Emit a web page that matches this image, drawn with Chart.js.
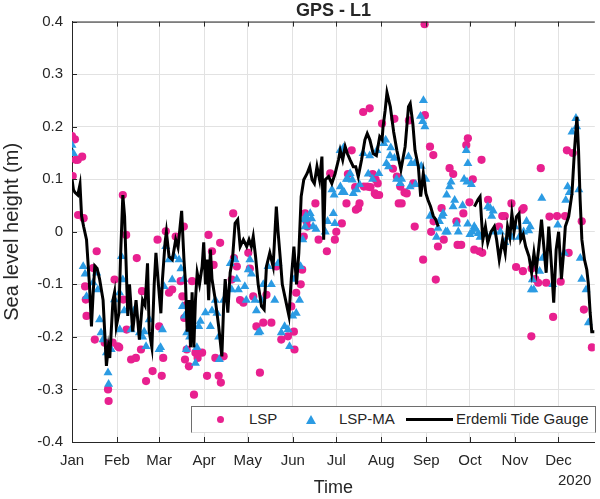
<!DOCTYPE html>
<html>
<head>
<meta charset="utf-8">
<title>GPS - L1</title>
<script src="https://cdn.jsdelivr.net/npm/chart.js@4.4.1/dist/chart.umd.min.js"></script>
<style>
  html, body { margin: 0; padding: 0; background: #fff; }
  #wrap { position: relative; width: 600px; height: 499px; overflow: hidden;
          font-family: 'Liberation Sans', Arial, sans-serif; color: #262626; }
  #wrap canvas { position: absolute; left: 0; top: 0; }
  .legend { position: absolute; left: 191px; top: 406px; width: 405px; height: 27px;
            box-sizing: border-box; background: #fff; border: 1px solid #6e6e6e;
            border-bottom-color: #dedede; font-size: 15px; }
  .legend .txt { position: absolute; top: 3px; line-height: 18px; white-space: nowrap; }
  .legend .dot { position: absolute; left: 25px; top: 9px; width: 7px; height: 7px;
                 border-radius: 50%; background: #e8208f; }
  .legend svg { position: absolute; left: 114px; top: 8px; }
  .legend .ln { position: absolute; left: 214px; top: 11px; width: 47px; height: 3px; background: #000; }
  .year { position: absolute; left: 558px; top: 471px; font-size: 15px; }
</style>
</head>
<body>
<div id="wrap">
  <canvas id="chart" width="600" height="499"></canvas>
  <div class="legend">
    <span class="dot"></span><span class="txt" style="left:57px">LSP</span>
    <svg width="10" height="9"><polygon points="5,0 10,9 0,9" fill="#2b9be3"/></svg>
    <span class="txt" style="left:147px">LSP-MA</span>
    <span class="ln"></span><span class="txt" style="left:264px">Erdemli Tide Gauge</span>
  </div>
  <div class="year">2020</div>
</div>
<script>
'use strict';

// ── Axis ticks ────────────────────────────────────────────
const MONTHS      = ['Jan','Feb','Mar','Apr','May','Jun','Jul','Aug','Sep','Oct','Nov','Dec'];
const MONTH_START = [0, 31, 60, 91, 121, 152, 182, 213, 244, 274, 305, 335];   // day of year 2020
const Y_TICKS     = [-0.4, -0.3, -0.2, -0.1, 0, 0.1, 0.2, 0.3, 0.4];

// ── Erdemli tide gauge (day of year, metres); null = no record ──
const tideDay = [
  0, 1, 2, 4, 5.5, 6.6, 8, 10, 12, 13.4,
  14.5, 15.7, 17.3, 19, 21.4, 23.7, 25, 26, 27, 28.2,
  29.3, 30.5, 32.3, 33.4, 35, 36.2, 37.3, 38.4, 39.6, 41.8,
  44.1, 46.4, 48.6, 50.3, 52, 53.2, 55, 56.6, 57.8, 59.5,
  61.2, 62.3, 64.1, 65, 66.8, 69.1, 71.4, 73, 75.5, 77.1,
  78.2, 79.3, 80.5, 81.6, 82.7, 83.9, 85, 86.2, 87.8, 89.6,
  90.7, 91.9, 93, 94.1, 95.3, 96.4, 98.7, 101, 103.2, 104.4,
  105.5, 107.3, 108.9, 110.5, 112.3, 114.1, 115.8, 118, 120.3, 121.9,
  123.5, 124.8, 126.4, 128.2, 130.5, 132.3, 133.9, 136.2, 138.5, 140.7,
  141.9, 143.7, 144.8, 147.1, 149.4, 151, 152.8, 154.6, 156.2, 157.8,
  159.6, 161.9, 163.7, 165.3, 166.9, 168.7, 170.5, 172.1, 173.3, 174.4,
  176.7, 178.9, 181.2, 183.5, 184.7, 186.4, 188.1, 189.6, 191.5, 193.7,
  195.4, 197.1, 199.4, 201.7, 203.3, 205.1, 207.4, 209.6, 211.9, 213.5,
  214.2, 215.6, 216.9, 219.2, 221.5, 223.7, 226.5, 229.4, 231.7, 232.9,
  234.7, 236.2, 238.5, 240.1, 241.9, 243.7, 245.2, 246.9, 248.8, 250.5,
  252.2, 253, 277.1, 279.5, 281, 282.9, 284.7, 286.3, 288.5, 290.8,
  292.4, 294.2, 296.5, 298.3, 299.9, 301.5, 302.9, 304.4, 306.1, 307.8,
  309, 310.7, 312.4, 314.7, 316.5, 318.1, 319.7, 321.5, 323.3, 324.9,
  326.5, 328.3, 330.2, 331.7, 333.4, 335.1, 337, 338.5, 339.7, 342,
  344.3, 346, 347.7, 348.8, 349.9, 351.1, 352.9, 354.5, 355.6, 356.8,
  357.9, 359.7
];
const tideLevel = [
  0.10, 0.08, 0.075, 0.07, 0.09, 0.03, 0.01, -0.015, -0.10, -0.18,
  -0.12, -0.065, -0.07, -0.09, -0.13, -0.255, -0.22, -0.24, -0.19, -0.13,
  -0.115, -0.18, -0.155, -0.05, 0.07, 0.03, -0.065, -0.16, -0.10, -0.19,
  -0.13, -0.205, -0.13, -0.14, -0.06, -0.19, -0.22, -0.10, -0.04, -0.10,
  -0.155, -0.09, -0.02, 0.0, -0.047, -0.053, -0.015, -0.03, 0.04, -0.053,
  -0.10, -0.19, -0.13, -0.22, -0.115, -0.22, -0.13, -0.078, -0.10, -0.066,
  -0.02, -0.10, -0.053, -0.13, -0.034, -0.09, -0.13, -0.18, -0.237, -0.142,
  -0.09, -0.154, -0.078, -0.053, 0.016, 0.023, -0.028, -0.015, -0.028, -0.015,
  -0.028, -0.009, -0.047, -0.10, -0.142, -0.148, -0.066, -0.04, -0.066, 0.048,
  0.0, -0.06, -0.10, -0.13, -0.16, -0.09, -0.028, -0.10, -0.04, 0.067,
  0.099, 0.111, 0.124, 0.099, 0.092, 0.124, 0.099, 0.143, -0.015, 0.099,
  0.105, 0.092, 0.111, 0.137, 0.155, 0.137, 0.162, 0.149, 0.137, 0.124,
  0.124, 0.105, 0.137, 0.175, 0.187, 0.175, 0.149, 0.145, 0.181, 0.175,
  0.2, 0.23, 0.265, 0.238, 0.19, 0.155, 0.118, 0.162, 0.238, 0.244,
  0.206, 0.155, 0.124, 0.067, 0.111, 0.073, 0.06, 0.048, 0.03, 0.023,
  0.01, null, 0.048, 0.061, 0.067, -0.015, 0.01, -0.021, 0.0, 0.01,
  -0.015, -0.053, -0.015, -0.04, 0.01, -0.01, 0.035, 0.0, 0.029, 0.035,
  -0.015, -0.005, -0.028, -0.047, -0.078, -0.04, -0.072, -0.028, 0.023, -0.028,
  -0.078, 0.01, -0.066, -0.135, -0.034, 0.0, -0.09, -0.04, 0.01, 0.029,
  0.073, 0.155, 0.219, 0.155, 0.061, -0.015, -0.053, -0.072, -0.10, -0.154,
  -0.19, -0.19
];

// ── LSP retrievals ────────────────────────────────────────
const lspDay = [
  0, 0.5, 2, 2.5, 4, 4.2, 7, 8, 9, 9.5,
  10, 14.5, 15.7, 17, 22.5, 24.8, 25.2, 28, 29.3, 31.6,
  32.5, 35, 35.3, 37.3, 37.6, 40.7, 44, 44.6, 47.5, 48.2,
  51, 55.5, 58.9, 60, 61.8, 62.8, 64.6, 66.8, 69, 71.4,
  74.8, 76, 77, 77.3, 77.8, 78.5, 79, 80.5, 82.7, 84,
  85, 86.5, 89.6, 93, 94, 96.4, 97.5, 98.7, 101, 102,
  102.5, 104.4, 110, 111, 111.5, 113.5, 115.7, 118, 121.4, 122.5,
  124.8, 127, 129.4, 131.7, 133.9, 137.3, 140.7, 144.1, 148.7, 151,
  152.8, 153.2, 154.4, 157.5, 158.5, 159.6, 160.5, 161.5, 162, 167.6,
  169.8, 175.5, 177.8, 181, 182, 185.8, 189, 190, 192.6, 195,
  195.5, 197, 198, 200.5, 201, 203.4, 205, 205.5, 207, 208.5,
  209, 209.5, 210.5, 211.5, 213.5, 221, 222, 223.7, 225, 226,
  227, 229, 230.5, 232, 235, 236, 241.8, 242.8, 243, 246.5,
  247.3, 248.8, 249, 250.5, 252, 254.5, 256, 260, 262.5, 264.7,
  265.5, 268, 269.5, 271.5, 272.6, 273.7, 276, 277, 280.5, 282,
  282.5, 286.5, 294, 296.3, 298, 302.6, 305.8, 310, 310.5, 311,
  316.3, 316.5, 319, 321, 322.8, 326.5, 328.8, 331.3, 334, 336.5,
  339.5, 340.8, 342, 344.8, 351, 352.5, 358
];
const lspLevel = [
  0.182, 0.106, 0.176, 0.137, 0.137, 0.032, 0.143, 0.026, -0.104, -0.129,
  -0.16, -0.069, -0.205, -0.037, -0.211, -0.30, -0.322, -0.211, -0.091, -0.218,
  -0.22, 0.07, -0.129, -0.006, -0.186, -0.243, -0.24, -0.05, -0.224, -0.113,
  -0.284, -0.265, -0.015, -0.18, -0.274, -0.24, 0.001, -0.116, -0.11, -0.009,
  -0.094, -0.123, 0.01, -0.164, -0.243, -0.14, -0.224, -0.256, -0.094, -0.31,
  -0.23, -0.24, -0.23, -0.274, -0.006, -0.037, -0.063, -0.24, -0.274, -0.021,
  -0.287, -0.237, -0.091, 0.035, -0.05, -0.066, -0.13, -0.135, -0.04, -0.07,
  -0.123, -0.18, -0.268, -0.173, -0.12, -0.173, -0.066, -0.205, -0.199, -0.142,
  -0.19, -0.224, -0.116, -0.10, -0.072, -0.009, 0.035, 0.02, 0.01, 0.054,
  -0.015, -0.037, 0.111, -0.015, 0.0, 0.016, 0.054, 0.11, 0.155, 0.085,
  0.042, 0.045, 0.054, 0.228, 0.086, 0.086, 0.235, 0.085, 0.11, 0.073,
  0.1, 0.07, 0.092, 0.07, 0.206, 0.12, 0.215, 0.105, 0.054, 0.086,
  0.054, 0.075, 0.073, 0.212, 0.092, 0.01, -0.053, 0.395, 0.222, 0.162,
  0.0, 0.146, 0.02, -0.091, -0.028, 0.045, -0.015, 0.121, 0.11, 0.02,
  -0.025, -0.025, 0.035, 0.165, 0.178, 0.056, 0.1, -0.034, -0.037, 0.137,
  -0.04, 0.061, 0.01, 0.03, 0.03, 0.054, -0.067, 0.042, -0.075, 0.045,
  -0.199, -0.07, -0.09, -0.097, 0.121, -0.097, 0.029, -0.162, 0.03, -0.095,
  0.03, 0.155, -0.04, 0.15, 0.02, -0.148, -0.22
];

// ── LSP moving average ────────────────────────────────────
const maDay = [
  0, 1, 7.7, 9, 10, 14.5, 17, 17.8, 19, 20,
  21.4, 23.7, 24.8, 25.2, 27, 29.3, 32.7, 32.9, 34, 35,
  36, 40.7, 42.6, 46.4, 48.6, 49.7, 51, 53.2, 60, 61,
  62.3, 63.4, 64.6, 66.8, 69, 70.3, 73.7, 75, 76, 77,
  77.5, 78.7, 79, 81, 85, 86, 87.3, 88.4, 91.9, 95.3,
  96.4, 98.7, 99.8, 101, 101.5, 104.4, 109, 110, 112.3, 113.5,
  114.6, 119, 120, 121.4, 122.5, 123.6, 126, 127, 128.2, 129.4,
  130.5, 131.7, 135, 137.3, 139.6, 141.9, 144.1, 146.4, 148.7, 149.8,
  152, 153, 154.4, 156.7, 157.4, 158.9, 160, 160.5, 161, 162,
  164, 165, 166, 168, 174.4, 176, 179, 180, 180.5, 181,
  184.6, 184.8, 186, 187, 187.5, 189, 190, 191.5, 193, 193.7,
  196, 198, 200.5, 204, 205, 207, 210, 211.3, 214.7, 216,
  216.5, 218, 219, 219.5, 222, 223.5, 226, 227, 231.7, 232.8,
  233.5, 236, 236.5, 240, 240.5, 241.5, 242, 243, 243.6, 246.5,
  251, 252, 253, 254.8, 255.6, 257.3, 258, 258.5, 260, 261,
  262.4, 263.5, 265, 266, 269, 270, 271.5, 272, 272.5, 272.6,
  274, 275, 275.5, 277, 278, 279.8, 281, 285, 286.3, 288,
  289, 290, 291, 295, 298, 302.8, 305, 308, 311, 313,
  314.5, 315.5, 316.3, 317, 318, 322, 323.5, 324, 331, 334.5,
  339, 340, 341.3, 342.5, 344.3, 347, 347.5, 349, 350, 351,
  354, 355.6
];
const maLevel = [
  0.165, 0.149, -0.066, -0.08, -0.123, -0.097, -0.078, -0.11, -0.167, -0.192,
  -0.205, -0.23, -0.268, -0.29, -0.224, -0.129, -0.116, -0.186, -0.047, -0.091,
  -0.15, -0.186, -0.15, -0.192, -0.2, -0.19, -0.218, -0.167, -0.224, -0.22,
  -0.186, -0.104, -0.028, -0.053, -0.091, -0.047, -0.053, -0.07, -0.142, -0.09,
  -0.16, -0.224, -0.192, -0.2, -0.25, -0.22, -0.18, -0.17, -0.154, -0.18,
  -0.15, -0.13, -0.155, -0.2, -0.243, -0.13, -0.06, -0.11, -0.053, -0.09,
  -0.11, -0.104, -0.13, -0.072, -0.053, -0.08, -0.13, -0.15, -0.192, -0.19,
  -0.13, -0.10, -0.066, -0.1, -0.13, -0.06, -0.192, -0.18, -0.186, -0.218,
  -0.16, -0.09, -0.155, -0.13, -0.066, -0.015, 0.023, 0.01, 0.03, 0.025,
  0.035, 0.025, 0.01, 0.005, 0.0, 0.02, 0.08, 0.035, 0.07, 0.016,
  0.155, 0.086, 0.075, 0.16, 0.075, 0.1, 0.1, 0.111, 0.099, 0.073,
  0.08, 0.09, 0.149, 0.11, 0.145, 0.1, 0.155, 0.111, 0.168, 0.175,
  0.13, 0.124, 0.145, 0.16, 0.14, 0.1, 0.092, 0.1, 0.143, 0.086,
  0.13, 0.13, 0.09, 0.22, 0.125, 0.21, 0.25, 0.2, 0.1, 0.03,
  -0.01, 0.007, 0.02, 0.03, 0.035, 0.0, 0.07, 0.0, 0.086, 0.095,
  0.048, 0.06, 0.015, 0.0, 0.05, 0.1, 0.155, 0.095, 0.015, 0.13,
  -0.005, 0.09, 0.0, 0.01, 0.005, -0.003, -0.01, -0.005, 0.048, 0.045,
  0.03, 0.04, 0.0, 0.0, -0.02, -0.01, 0.01, -0.01, 0.0, 0.02,
  0.002, 0.01, -0.11, -0.091, -0.11, -0.075, 0.064, -0.05, -0.1, 0.013,
  -0.04, 0.06, 0.086, 0.075, 0.19, 0.216, 0.2, 0.08, -0.05, -0.09,
  -0.11, -0.173
];

const C = {
  lsp:  '#e8208f',
  ma:   '#2b9be3',
  tide: '#000000',
  axis: '#262626',
  grid: '#e2e2e2',
};
const FONT = "'Liberation Sans', Arial, sans-serif";

const toXY = (xs, ys) => xs.map((x, i) => ({ x, y: ys[i] }));

// inward tick marks + top frame line, MATLAB style
const boxTicks = {
  id: 'boxTicks',
  afterDatasetsDraw(chart) {
    const { ctx, chartArea: a, scales: { x, y } } = chart;
    ctx.save();
    ctx.strokeStyle = C.axis;
    ctx.lineWidth = 1;
    ctx.beginPath();
    ctx.moveTo(a.left, a.top + 0.5);
    ctx.lineTo(a.right, a.top + 0.5);
    x.ticks.forEach(t => {
      const px = Math.round(x.getPixelForValue(t.value)) + 0.5;
      ctx.moveTo(px, a.bottom); ctx.lineTo(px, a.bottom - 5);
      ctx.moveTo(px, a.top);    ctx.lineTo(px, a.top + 5);
    });
    y.ticks.forEach(t => {
      const py = Math.round(y.getPixelForValue(t.value)) + 0.5;
      ctx.moveTo(a.left, py); ctx.lineTo(a.left + 5, py);
    });
    ctx.stroke();
    ctx.restore();
  }
};

new Chart(document.getElementById('chart'), {
  type: 'scatter',
  data: {
    datasets: [
      {
        label: 'Erdemli Tide Gauge',
        data: toXY(tideDay, tideLevel),
        showLine: true,
        spanGaps: false,
        borderColor: C.tide,
        borderWidth: 3,
        pointRadius: 0,
        order: 0,
      },
      {
        label: 'LSP-MA',
        data: toXY(maDay, maLevel),
        pointStyle: 'triangle',
        pointRadius: 5.2,
        backgroundColor: C.ma,
        borderColor: C.ma,
        borderWidth: 0,
        order: 1,
      },
      {
        label: 'LSP',
        data: toXY(lspDay, lspLevel),
        pointStyle: 'circle',
        pointRadius: 4.1,
        backgroundColor: C.lsp,
        borderColor: C.lsp,
        borderWidth: 0,
        order: 2,
      },
    ]
  },
  options: {
    responsive: false,
    animation: false,
    layout: { padding: 0 },
    plugins: {
      legend: { display: false },
      tooltip: { enabled: false },
      title: {
        display: true,
        fullSize: false,          // centre over the plot area, not the canvas
        text: 'GPS - L1',
        color: C.axis,
        font: { family: FONT, size: 18, weight: 'bold' },
        padding: { top: 0, bottom: 0 },
      },
    },
    scales: {
      x: {
        type: 'linear',
        min: 0, max: 360,
        afterBuildTicks: s => { s.ticks = MONTH_START.map(v => ({ value: v })); },
        afterFit: s => { s.height = 57; },
        ticks: {
          font: { family: FONT, size: 15 },
          color: C.axis,
          padding: 10,
          maxRotation: 0,
          callback: v => MONTHS[MONTH_START.indexOf(v)],
        },
        grid: { color: C.grid, drawTicks: false },
        border: { color: C.axis },
        title: {
          display: true, text: 'Time', color: C.axis,
          font: { family: FONT, size: 18 },
          padding: { top: 2, bottom: 0 },
        },
      },
      y: {
        min: -0.4, max: 0.4,
        afterBuildTicks: s => { s.ticks = Y_TICKS.map(v => ({ value: v })); },
        afterFit: s => { s.width = 72; },
        ticks: {
          font: { family: FONT, size: 15 },
          color: C.axis,
          padding: 9,
          callback: v => Math.abs(v) < 1e-9 ? '0' : v.toFixed(1),
        },
        grid: { color: C.grid, drawTicks: false },
        border: { color: C.axis },
        title: {
          display: true, text: 'Sea level height (m)', color: C.axis,
          font: { family: FONT, size: 20 },
          padding: { top: 0, bottom: 0 },
        },
      },
    },
  },
  plugins: [boxTicks],
});
</script>
</body>
</html>
